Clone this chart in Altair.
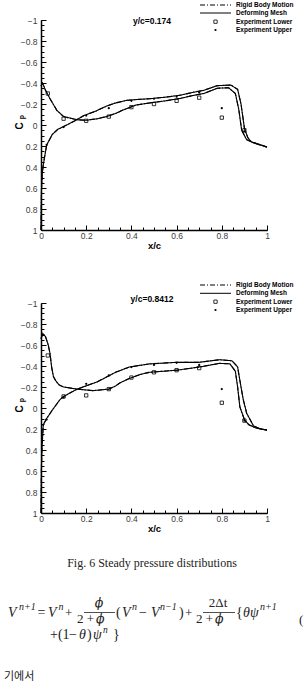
import altair as alt
import pandas as pd

SANS = "Liberation Sans"
SERIF = "Liberation Serif"
GREEK = "DejaVu Serif"
KOREAN = "Noto Sans CJK KR"
INK = "#222222"
GREY = "#3c3c3c"

# ---------------- data ----------------
METHODS = ["Rigid Body Motion", "Deforming Mesh"]
EXPERIMENTS = ["Experiment Lower", "Experiment Upper"]

X_TICKS = [0, 0.2, 0.4, 0.6, 0.8, 1]
Y_TICKS = [-1, -0.8, -0.6, -0.4, -0.2, 0, 0.2, 0.4, 0.6, 0.8, 1]
X_MINOR = [round(i * 0.05, 2) for i in range(21)]
Y_MINOR = [round(-1 + i * 0.05, 2) for i in range(41)]

# y/c = 0.174  (computed curves: rigid and deforming coincide at this scale)
A1_x = [0.0, 0.007, 0.02, 0.04, 0.07, 0.10, 0.16, 0.20, 0.25, 0.29, 0.33, 0.36, 0.42, 0.48,
        0.55, 0.62, 0.67, 0.72, 0.78, 0.83, 0.86, 0.875, 0.888, 0.91, 0.94, 0.97, 1.0]
A1_cp = [-0.37, -0.40, -0.33, -0.25, -0.14, -0.08, -0.05, -0.045, -0.06, -0.08, -0.11, -0.14, -0.19, -0.21,
         -0.23, -0.255, -0.28, -0.30, -0.35, -0.355, -0.30, -0.15, 0.05, 0.14, 0.17, 0.19, 0.21]
B1_x = [0.0, 0.002, 0.005, 0.01, 0.025, 0.05, 0.075, 0.10, 0.15, 0.19, 0.24, 0.29, 0.33, 0.38, 0.44,
        0.48, 0.55, 0.62, 0.67, 0.72, 0.78, 0.84, 0.87, 0.885, 0.90, 0.915, 0.93, 0.96, 1.0]
B1_cp = [1.0, 0.62, 0.48, 0.38, 0.19, 0.09, 0.04, 0.015, -0.04, -0.09, -0.13, -0.18, -0.21, -0.235, -0.245,
         -0.25, -0.265, -0.285, -0.31, -0.33, -0.375, -0.38, -0.34, -0.20, 0.03, 0.12, 0.16, 0.18, 0.21]
L1_x = [0.03, 0.10, 0.20, 0.30, 0.40, 0.50, 0.60, 0.70, 0.80, 0.90]
L1_cp = [-0.30, -0.06, -0.04, -0.08, -0.17, -0.20, -0.23, -0.26, -0.07, 0.05]
U1_x = [0.025, 0.10, 0.20, 0.30, 0.40, 0.50, 0.60, 0.70, 0.80, 0.90]
U1_cp = [0.19, 0.02, -0.09, -0.16, -0.23, -0.25, -0.27, -0.31, -0.16, 0.06]

# y/c = 0.8412
A2_x = [0.0, 0.008, 0.02, 0.032, 0.04, 0.047, 0.055, 0.065, 0.08, 0.10, 0.16, 0.23, 0.30, 0.33, 0.35,
        0.39, 0.44, 0.48, 0.60, 0.70, 0.79, 0.836, 0.86, 0.87, 0.88, 0.90, 0.92, 0.95, 1.0]
A2_cp = [-0.66, -0.71, -0.68, -0.60, -0.52, -0.39, -0.30, -0.26, -0.22, -0.20, -0.18, -0.165, -0.18, -0.21, -0.24,
         -0.28, -0.32, -0.34, -0.36, -0.39, -0.425, -0.42, -0.35, -0.20, -0.01, 0.11, 0.16, 0.19, 0.21]
B2_x = [0.0, 0.002, 0.004, 0.01, 0.025, 0.05, 0.084, 0.10, 0.16, 0.25, 0.33, 0.39, 0.48, 0.60, 0.70,
        0.79, 0.845, 0.87, 0.885, 0.895, 0.91, 0.925, 0.94, 0.97, 1.0]
B2_cp = [1.0, 0.55, 0.40, 0.16, 0.10, 0.02, -0.08, -0.11, -0.18, -0.25, -0.34, -0.39, -0.42, -0.435, -0.435,
         -0.46, -0.45, -0.39, -0.20, -0.08, 0.05, 0.11, 0.17, 0.20, 0.21]
L2_x = [0.03, 0.10, 0.20, 0.30, 0.40, 0.50, 0.60, 0.70, 0.80, 0.90]
L2_cp = [-0.50, -0.11, -0.12, -0.18, -0.29, -0.34, -0.36, -0.38, -0.05, 0.12]
U2_x = [0.025, 0.10, 0.20, 0.30, 0.40, 0.50, 0.60, 0.70, 0.80, 0.90]
U2_cp = [0.11, -0.10, -0.23, -0.31, -0.39, -0.41, -0.43, -0.41, -0.18, 0.12]

TITLES = ["y/c=0.174", "y/c=0.8412"]
CAPTION = "Fig. 6 Steady pressure distributions"
KOREAN_TEXT = "기에서"

# ---------------- layout constants ----------------
W, H = 226, 210
ORIGIN_X = 41
ORIGIN_TOP = 20
ORIGIN_BOT = 303
ONE = pd.DataFrame({"k": [0]})


def curve_frame(a_x, a_cp, b_x, b_cp):
    rows = []
    for m in METHODS:
        for name, xs, cs in (("a", a_x, a_cp), ("b", b_x, b_cp)):
            for x, c in zip(xs, cs):
                rows.append({"x": x, "cp": c, "method": m, "curve": m + name})
    return pd.DataFrame(rows)


XS = alt.Scale(domain=[0, 1], nice=False, zero=False)
YS = alt.Scale(domain=[-1, 1], nice=False, zero=False, reverse=True)
FMT = "format(datum.value, '~g')"

AX_X_MAIN = alt.Axis(values=X_TICKS, orient="bottom", labelExpr=FMT, ticks=False, tickSize=0, grid=False,
                     domainColor="black", domainWidth=1.5, labelFont=SANS, labelFontSize=8.5,
                     labelColor=GREY, labelPadding=1.5, labelFlush=False, labelOverlap=False,
                     title="x/c", titleFont=SANS, titleFontSize=9.5, titleFontWeight="bold",
                     titleColor="black", titleY=15, titleBaseline="middle")
AX_Y_MAIN = alt.Axis(values=Y_TICKS, orient="left", labelExpr=FMT, ticks=False, tickSize=0, grid=False,
                     domainColor="black", domainWidth=1.5, labelFont=SANS, labelFontSize=8.5,
                     labelColor=GREY, labelPadding=4, labelFlush=False, labelOverlap=False, title=None)


def tick_axis(orient, values, size):
    return alt.Axis(values=values, orient=orient, offset=-size, tickSize=size, tickWidth=1,
                    tickColor="black", labels=False, domain=False, grid=False, title=None)


def txt(text, x, y, size, font=SERIF, style="normal", weight="normal", align="left",
        baseline="alphabetic", color=INK, angle=0):
    return alt.Chart(ONE).mark_text(text=text, font=font, fontSize=size, fontStyle=style,
                                    fontWeight=weight, align=align, baseline=baseline,
                                    color=color, angle=angle).encode(x=alt.value(x), y=alt.value(y))


def rule(x1, x2, y, width=0.8, dash=None, color=INK):
    kw = {"strokeWidth": width, "color": color}
    if dash:
        kw["strokeDash"] = dash
    return alt.Chart(ONE).mark_rule(**kw).encode(x=alt.value(x1), x2=alt.value(x2), y=alt.value(y))


def panel(idx, a_x, a_cp, b_x, b_cp, lo_x, lo_cp, up_x, up_cp, title_y, legend_rows, extras):
    curves = curve_frame(a_x, a_cp, b_x, b_cp)
    lo = pd.DataFrame({"x": lo_x, "cp": lo_cp})
    up = pd.DataFrame({"x": up_x, "cp": up_cp})

    lines = alt.Chart(curves).mark_line(color="black", strokeWidth=1.1).encode(
        x=alt.X("x:Q", scale=XS, axis=AX_X_MAIN),
        y=alt.Y("cp:Q", scale=YS, axis=AX_Y_MAIN),
        detail="curve:N",
        strokeDash=alt.StrokeDash("method:N", scale=alt.Scale(domain=METHODS, range=[[5, 2, 1, 2], [1, 0]]),
                                  legend=None),
    )
    lo_pts = alt.Chart(lo).mark_point(shape="square", filled=False, size=11, color="black",
                                      strokeWidth=0.8, opacity=1).encode(
        x=alt.X("x:Q", scale=XS, axis=tick_axis("bottom", X_TICKS, 5)),
        y=alt.Y("cp:Q", scale=YS, axis=tick_axis("left", Y_TICKS, 5)),
    )
    up_pts = alt.Chart(up).mark_point(shape="circle", filled=True, size=5, color="black", opacity=1).encode(
        x=alt.X("x:Q", scale=XS, axis=tick_axis("bottom", X_MINOR, 3)),
        y=alt.Y("cp:Q", scale=YS, axis=tick_axis("left", Y_MINOR, 3)),
    )

    r = legend_rows
    legend = [
        rule(159, 190, r[0], width=1, dash=[5, 2, 1, 2], color="black"),
        rule(159, 190, r[1], width=1, color="black"),
        alt.Chart(ONE).mark_point(shape="square", filled=False, size=11, color="black", strokeWidth=0.8,
                                  opacity=1).encode(x=alt.value(174.5), y=alt.value(r[2])),
        alt.Chart(ONE).mark_point(shape="circle", filled=True, size=5, color="black",
                                  opacity=1).encode(x=alt.value(174.5), y=alt.value(r[3])),
    ]
    labels_ = METHODS + EXPERIMENTS
    for lab, ry in zip(labels_, r):
        legend.append(txt(lab, 195, ry, 6.5, font=SANS, weight="bold", baseline="middle", color="black"))

    deco = [
        txt(TITLES[idx], 111, title_y, 8.5, font=SANS, weight="bold", align="center",
            baseline="middle", color="black"),
        txt("C", -21, 106, 10, font=SANS, weight="bold", align="center", baseline="middle",
            color="black", angle=270),
        txt("p", -19.5, 97, 7, font=SANS, weight="bold", align="center", baseline="middle",
            color="black", angle=270),
    ]
    layers = [lines, lo_pts, up_pts] + legend + deco + extras
    return alt.layer(*layers).properties(width=W, height=H).resolve_axis(x="independent", y="independent")


# anchor fixing the page frame (0,0)-(303,694), relative to the top panel origin
anchor = alt.Chart(ONE).mark_rule(strokeWidth=0, opacity=0).encode(
    x=alt.value(-ORIGIN_X), x2=alt.value(303 - ORIGIN_X),
    y=alt.value(-ORIGIN_TOP), y2=alt.value(694 - ORIGIN_TOP))


def E(text, ax, ay, size=14, style="normal", align="left", font=SERIF):
    return txt(text, ax - ORIGIN_X, ay - ORIGIN_BOT, size, font=font, style=style, align=align)


def BAR(ax1, ax2, ay):
    return rule(ax1 - ORIGIN_X, ax2 - ORIGIN_X, ay - ORIGIN_BOT, width=0.8)


below = [
    txt(CAPTION, 152 - ORIGIN_X, 563 - ORIGIN_BOT, 12, font=SERIF, align="center", baseline="middle"),
    # equation, line 1
    E("V", 8, 617, style="italic"),
    E("n+1", 19, 610, 10, style="italic"),
    E("=", 37.5, 617),
    E("V", 48, 617, style="italic"),
    E("n", 58.5, 610, 10, style="italic"),
    E("+", 65, 617, 13),
    E("ϕ", 99, 607, 12.5, style="italic", font=GREEK, align="center"),
    BAR(84, 115, 612.5),
    E("2 +", 94, 622.5, 13, align="right"),
    E("ϕ", 96, 622.5, 12.5, style="italic", font=GREEK),
    E("(", 116, 617),
    E("V", 122, 617, style="italic"),
    E("n", 132, 610, 10, style="italic"),
    E("−", 139, 617),
    E("V", 151, 617, style="italic"),
    E("n−1", 160, 610, 10, style="italic"),
    E(")", 179, 617),
    E("+", 185, 617, 13),
    E("2Δt", 218, 607, 13, align="center"),
    BAR(203, 235, 612.5),
    E("2 +", 213, 622.5, 13, align="right"),
    E("ϕ", 215, 622.5, 12.5, style="italic", font=GREEK),
    E("{", 236, 617),
    E("θψ", 243, 617, style="italic"),
    E("n+1", 260, 610, 10, style="italic"),
    E("(", 299, 624, 13),
    # equation, line 2
    E("+(1", 50, 638.5),
    E("−", 69, 638.5),
    E("θ", 79, 638.5, style="italic"),
    E(")", 87, 638.5),
    E("ψ", 93, 638.5, style="italic"),
    E("n", 103, 632.5, 9.5, style="italic"),
    E("}", 113, 638.5),
    txt(KOREAN_TEXT, 4 - ORIGIN_X, 677 - ORIGIN_BOT, 11, font=KOREAN, baseline="middle"),
]

top = panel(0, A1_x, A1_cp, B1_x, B1_cp, L1_x, L1_cp, U1_x, U1_cp,
            0.5, [-15, -7, 1.7, 10], [anchor])
bottom = panel(1, A2_x, A2_cp, B2_x, B2_cp, L2_x, L2_cp, U2_x, U2_cp,
               -4.5, [-18, -9.7, -1.3, 7], below)

chart = alt.vconcat(top, bottom, spacing=ORIGIN_BOT - ORIGIN_TOP - H, bounds="flush").properties(
    padding=0, background="white"
).configure_view(strokeOpacity=0)

chart.save("out.html", embed_options={"renderer": "svg", "actions": False})
